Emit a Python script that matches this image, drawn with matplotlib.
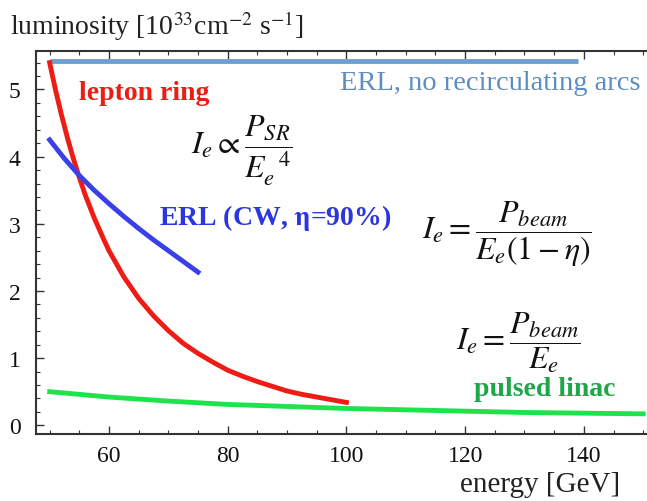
import numpy as np
import matplotlib
matplotlib.use("Agg")
import matplotlib.pyplot as plt
from matplotlib.ticker import MultipleLocator

plt.rcParams['font.family'] = ['Liberation Serif', 'DejaVu Serif']
plt.rcParams['mathtext.fontset'] = 'stix'

# values
erl_arc_e = [50, 139]
erl_arc_lum = [5.42, 5.42]

ring_e = [50, 51, 52, 53, 54, 55, 56, 57.5, 59, 60, 62.5, 65, 67.5, 70, 72.5,
          75, 77.5, 80, 82.5, 85, 87.5, 90, 92.5, 95, 97.5, 100]
ring_lum = [5.40, 4.99, 4.62, 4.28, 3.97, 3.69, 3.43, 3.09, 2.79, 2.60, 2.21,
            1.89, 1.63, 1.41, 1.22, 1.07, 0.94, 0.82, 0.73, 0.65, 0.58, 0.51,
            0.46, 0.42, 0.38, 0.34]

cw_e = [50, 52.5, 55, 57.5, 60, 62.5, 65, 67.5, 70, 72.5, 75]
cw_lum = [4.25, 3.97, 3.72, 3.50, 3.30, 3.11, 2.93, 2.76, 2.60, 2.44, 2.28]

linac_e = [50, 60, 70, 80, 90, 100, 110, 120, 130, 140, 150]
linac_lum = [0.50, 0.42, 0.36, 0.31, 0.28, 0.25, 0.23, 0.21, 0.19, 0.18, 0.17]

fig = plt.figure(figsize=(6.47, 5.02), dpi=100)
ax = fig.add_axes([0.0556, 0.1335, 0.944, 0.7625])

ax.plot(erl_arc_e, erl_arc_lum, color='#6f9fd0', lw=3.5, solid_capstyle='butt')
ax.plot(ring_e, ring_lum, color='#ee1c14', lw=3.5)
ax.plot(cw_e, cw_lum, color='#3b3fe8', lw=3.5)
ax.plot(linac_e, linac_lum, color='#1fe34a', lw=3.5)

ax.set_xlim(47.7, 150.6)
ax.set_ylim(-0.13, 5.57)
ax.xaxis.set_major_locator(MultipleLocator(20))
ax.xaxis.set_minor_locator(MultipleLocator(5))
ax.yaxis.set_major_locator(MultipleLocator(1))
ax.yaxis.set_minor_locator(MultipleLocator(0.2))
ax.tick_params(which='both', direction='in', top=True, right=False,
               colors='#333333', labelcolor='#111111', labelsize=17)
ax.tick_params(axis='x', which='major', pad=8)
ax.tick_params(axis='y', which='major', pad=11)
ax.tick_params(which='major', length=6, width=1)
ax.tick_params(which='minor', length=3, width=0.8)
ax.spines['right'].set_visible(False)
for s in ['left', 'bottom', 'top']:
    ax.spines[s].set_color('#333333')
    ax.spines[s].set_linewidth(1.5)

fig.text(0.015, 0.948, r'luminosity [10$^{33}$cm$^{-2}$ s$^{-1}$]',
         fontsize=20, va='center', ha='left', color='#222222')
fig.text(0.958, 0.034, 'energy [GeV]', fontsize=21, va='center', ha='right',
         color='#222222')

ax.text(55, 4.95, 'lepton ring', color='#ee1c14', fontsize=20,
        fontweight='bold', va='center')
ax.text(98.9, 5.1, 'ERL, no recirculating arcs', color='#5e8dbf', fontsize=20.5,
        va='center')
ax.text(68.5, 3.1, r'ERL (CW, $\mathbf{\eta}$=90%)', color='#2b35e0',
        fontsize=20, fontweight='bold', va='center')
ax.text(73.8, 4.1, r'$I_e \propto \dfrac{P_{SR}}{E_e^{\ \ 4}}$', fontsize=23,
        va='center', color='#111111')
ax.text(112.8, 2.85, r'$I_e = \dfrac{P_{beam}}{E_e(1-\eta)}$', fontsize=23,
        va='center', color='#111111')
ax.text(118.5, 1.25, r'$I_e = \dfrac{P_{beam}}{E_e}$', fontsize=23,
        va='center', color='#111111')
ax.text(121.5, 0.55, 'pulsed linac', color='#1ea64a', fontsize=20,
        fontweight='bold', va='center')

fig.savefig('out.png', dpi=100)
